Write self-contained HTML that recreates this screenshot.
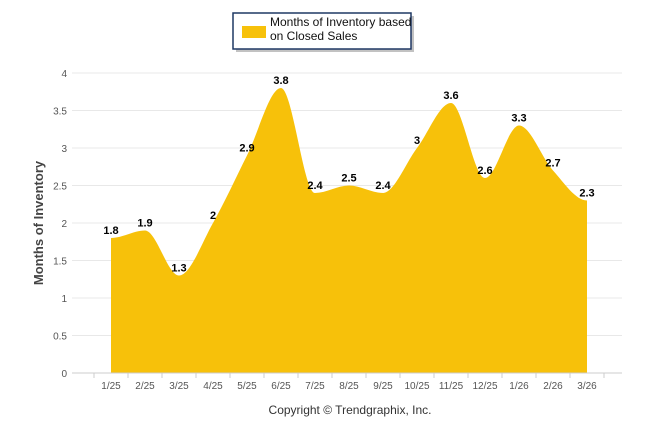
<!DOCTYPE html>
<html><head><meta charset="utf-8"><style>
body{margin:0;background:#fff;font-family:"Liberation Sans",sans-serif}
svg text{font-family:"Liberation Sans",sans-serif}
</style></head><body>
<svg id="chart" width="646" height="434" xmlns="http://www.w3.org/2000/svg">
<g id="grid"></g><g id="area"></g><g id="labels"></g><g id="axes"></g>
<g>
<rect x="236" y="16" width="178" height="36" fill="#666" opacity="0.4"/>
<rect x="233" y="13" width="178" height="36" fill="#fff" stroke="#1f3864" stroke-width="1.5"/>
<rect x="242" y="26" width="24" height="12" fill="#f7c10a"/>
<text x="270" y="26" font-size="12" fill="#111">Months of Inventory based</text>
<text x="270" y="40" font-size="12" fill="#111">on Closed Sales</text>
</g>
<text transform="translate(43,223) rotate(-90)" text-anchor="middle" font-size="13" font-weight="bold" fill="#444">Months of Inventory</text>
<text x="350" y="414" text-anchor="middle" font-size="12" fill="#333">Copyright © Trendgraphix, Inc.</text>
</svg>
<script>
const categories=["1/25","2/25","3/25","4/25","5/25","6/25","7/25","8/25","9/25","10/25","11/25","12/25","1/26","2/26","3/26"];
const values=[1.8,1.9,1.3,2,2.9,3.8,2.4,2.5,2.4,3,3.6,2.6,3.3,2.7,2.3];
const yTicks=[0,0.5,1,1.5,2,2.5,3,3.5,4];
const NS="http://www.w3.org/2000/svg";
const x0=111,dx=34,yBase=373,yScale=75;
const X=i=>x0+i*dx, Y=v=>yBase-v*yScale;
function mk(t,a,p){const e=document.createElementNS(NS,t);for(const k in a)e.setAttribute(k,a[k]);p.appendChild(e);return e;}
const grid=document.getElementById('grid'),axes=document.getElementById('axes'),area=document.getElementById('area'),labels=document.getElementById('labels');
yTicks.forEach(v=>{
 const l=mk('line',{x1:72,x2:622,y1:Y(v),y2:Y(v),stroke:'#e8e8e8'},grid);
 
 
 const t=mk('text',{x:67,y:Y(v)+4,'text-anchor':'end','font-size':10,fill:'#555'},axes);
 t.textContent=v;
 
 
});
mk('line',{x1:72,x2:622,y1:yBase,y2:yBase,stroke:'#ccc'},axes);
for(let i=0;i<=categories.length;i++){mk('line',{x1:X(i)-dx/2,x2:X(i)-dx/2,y1:yBase,y2:yBase+5,stroke:'#ccc'},axes);}
categories.forEach((c,i)=>{
 const t=mk('text',{x:X(i),y:yBase+16,'text-anchor':'middle','font-size':10,fill:'#555'},axes);
 t.textContent=c;
 
 
});
// spline
const pts=values.map((v,i)=>[X(i),Y(v)]);
let d=`M${pts[0][0]},${yBase}L${pts[0][0]},${pts[0][1]}`;
const sm=1.5;
for(let i=0;i<pts.length-1;i++){
 const p0=pts[i-1]||pts[i],p1=pts[i],p2=pts[i+1],p3=pts[i+2]||p2;
 let c1=[p1[0]+dx/3,p1[1]+(p2[1]-p0[1])/6*(p0===p1?0:1)];
 let c2=[p2[0]-dx/3,p2[1]-(p3[1]-p1[1])/6*(p3===p2?0:1)];
 // flatten at local extrema
 if(i>0&&((p1[1]-p0[1])*(p2[1]-p1[1])<0))c1[1]=p1[1];
 if(i+2<pts.length&&((p2[1]-p1[1])*(p3[1]-p2[1])<0))c2[1]=p2[1];
 d+=`C${c1[0]},${c1[1]} ${c2[0]},${c2[1]} ${p2[0]},${p2[1]}`;
}
d+=`L${pts[pts.length-1][0]},${yBase}Z`;
const a=mk('path',{d:d,fill:'#f7c10a'},area);


values.forEach((v,i)=>{
 const t=mk('text',{x:X(i),y:Y(v)-4,'text-anchor':'middle','font-size':11,'font-weight':'bold',fill:'#000'},labels);
 t.textContent=v;
 
 
});
</script>
</body></html>
